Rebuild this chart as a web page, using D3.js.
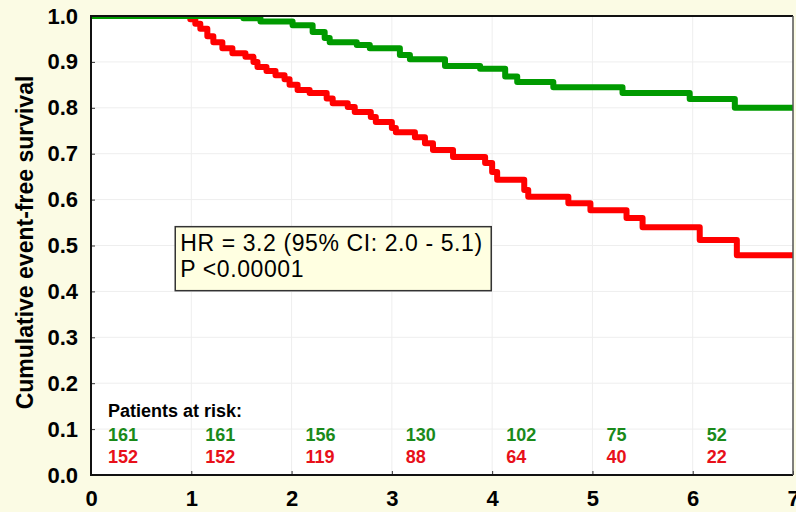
<!DOCTYPE html>
<html>
<head>
<meta charset="utf-8">
<script src="https://cdn.jsdelivr.net/npm/d3@7"></script>
<style>
  body { margin: 0; background: #fbfbe4; }
  svg text { font-family: "Liberation Sans", Arial, sans-serif; }
</style>
</head>
<body>
<div id="chart"></div>
<script>
// Kaplan-Meier steps (time in years, survival)
const greenTimes = [0, 1.52, 1.69, 2.01, 2.21, 2.33, 2.38, 2.65, 2.78, 3.08, 3.18, 3.53, 3.88, 4.13, 4.25, 4.61, 5.30, 5.97, 6.42, 7.0];
const greenSurv  = [1.0, 0.995, 0.988, 0.98, 0.965, 0.952, 0.943, 0.937, 0.93, 0.915, 0.906, 0.891, 0.885, 0.868, 0.856, 0.845, 0.832, 0.819, 0.80, 0.80];

const redTimes = [0, 0.99, 1.04, 1.09, 1.16, 1.22, 1.31, 1.41, 1.54, 1.62, 1.66, 1.75, 1.84, 1.93, 1.98, 2.06, 2.18, 2.35, 2.41, 2.56, 2.63, 2.79, 2.84, 3.0, 3.04, 3.23, 3.33, 3.41, 3.61, 3.93, 4.0, 4.05, 4.32, 4.36, 4.76, 4.98, 5.34, 5.50, 6.07, 6.44, 7.0];
const redSurv  = [1.0, 0.993, 0.983, 0.972, 0.956, 0.943, 0.93, 0.919, 0.911, 0.9, 0.889, 0.88, 0.871, 0.862, 0.85, 0.839, 0.832, 0.82, 0.81, 0.802, 0.791, 0.78, 0.769, 0.756, 0.747, 0.736, 0.723, 0.708, 0.693, 0.68, 0.66, 0.643, 0.621, 0.606, 0.592, 0.577, 0.56, 0.54, 0.512, 0.479, 0.479];

// patients at risk table
const riskTimes = [0, 1, 2, 3, 4, 5, 6];
const riskGreen = [161, 161, 156, 130, 102, 75, 52];
const riskRed   = [152, 152, 119, 88, 64, 40, 22];

const xTicks = [0, 1, 2, 3, 4, 5, 6, 7];
const yTicks = [0, 0.1, 0.2, 0.3, 0.4, 0.5, 0.6, 0.7, 0.8, 0.9, 1.0];

const statLines = ["HR = 3.2 (95% CI: 2.0 - 5.1)", "P <0.00001"];

const margin = { top: 16, right: 3, bottom: 37, left: 91 },
      width = 796 - margin.left - margin.right,
      height = 512 - margin.top - margin.bottom;

const svg = d3.select("#chart")
  .append("svg")
  .attr("width", 796)
  .attr("height", 512);

svg.append("rect")
  .attr("width", 796).attr("height", 512)
  .attr("fill", "#fbfbe4");

const g = svg.append("g")
  .attr("transform", `translate(${margin.left}, ${margin.top})`);

const x = d3.scaleLinear().domain([0, 7]).range([0, width]);
const y = d3.scaleLinear().domain([0, 1]).range([height, 0]);

// plot area
g.append("rect")
  .attr("width", width).attr("height", height)
  .attr("fill", "#ffffff");

g.append("clipPath").attr("id", "plot-clip")
  .append("rect").attr("width", width).attr("height", height);

// faint grid
g.append("g")
  .selectAll("line")
  .data(xTicks.slice(1, -1))
  .join("line")
  .attr("x1", d => x(d)).attr("x2", d => x(d))
  .attr("y1", 0).attr("y2", height)
  .attr("stroke", "#eeeeee").attr("stroke-width", 1);

g.append("g")
  .selectAll("line")
  .data(yTicks.slice(1, -1))
  .join("line")
  .attr("x1", 0).attr("x2", width)
  .attr("y1", d => y(d)).attr("y2", d => y(d))
  .attr("stroke", "#eeeeee").attr("stroke-width", 1);

// axes
const xAxis = g.append("g")
  .attr("transform", `translate(0, ${height})`)
  .call(d3.axisBottom(x).tickValues(xTicks).tickSize(-4).tickPadding(15).tickFormat(d3.format("d")));

const yAxis = g.append("g")
  .call(d3.axisLeft(y).tickValues(yTicks).tickSize(-4).tickPadding(13).tickFormat(d3.format(".1f")));

[xAxis, yAxis].forEach(a => {
  a.select(".domain").remove();
  a.selectAll(".tick line").attr("stroke", "#333").attr("stroke-width", 1);
  a.selectAll(".tick text")
    .attr("fill", "#000")
    .style("font-size", "22px")
    .style("font-weight", "bold");
});

// survival curves
const line = d3.line()
  .x(d => x(d[0]))
  .y(d => y(d[1]))
  .curve(d3.curveStepAfter);

const curves = [
  { color: "#ff0000", pts: d3.zip(redTimes, redSurv) },
  { color: "#009a00", pts: d3.zip(greenTimes, greenSurv) }
];

g.append("g")
  .attr("clip-path", "url(#plot-clip)")
  .selectAll("path")
  .data(curves)
  .join("path")
  .attr("d", d => line(d.pts))
  .attr("fill", "none")
  .attr("stroke", d => d.color)
  .attr("stroke-width", 6)
  .attr("stroke-linejoin", "round");

// frame
g.append("path")
  .attr("d", `M${width},0H0V${height}H${width}`)
  .attr("fill", "none").attr("stroke", "#111").attr("stroke-width", 2);
g.append("line")
  .attr("x1", width).attr("x2", width).attr("y1", 0).attr("y2", height)
  .attr("stroke", "#555").attr("stroke-width", 1.5);

// stats box
const box = g.append("g").attr("transform", `translate(${x(0.84)}, ${y(0.541)})`);
box.append("rect")
  .attr("width", 316).attr("height", 64)
  .attr("fill", "#ffffe1")
  .attr("stroke", "#333").attr("stroke-width", 1.5);
box.selectAll("text")
  .data(statLines)
  .join("text")
  .attr("x", 5)
  .attr("y", (d, i) => 24 + i * 26)
  .attr("fill", "#000")
  .style("font-size", "23px")
  .style("letter-spacing", "0.6px")
  .text(d => d);

// patients at risk
g.append("text")
  .attr("x", x(0.17)).attr("y", y(0.126))
  .style("font-size", "18px").style("font-weight", "bold")
  .attr("fill", "#000")
  .text("Patients at risk:");

const riskRows = [
  { vals: riskGreen, color: "#1a8a1a", yv: 0.073 },
  { vals: riskRed, color: "#e8101a", yv: 0.026 }
];
riskRows.forEach(row => {
  g.append("g")
    .selectAll("text")
    .data(row.vals)
    .join("text")
    .attr("x", (d, i) => x(riskTimes[i]) + (i === 0 ? 17 : 14))
    .attr("y", y(row.yv))
    .attr("fill", row.color)
    .style("font-size", "18px").style("font-weight", "bold")
    .text(d => d);
});

// y axis title
svg.append("text")
  .attr("transform", `translate(33, ${margin.top + height / 2 - 3}) rotate(-90)`)
  .attr("text-anchor", "middle")
  .attr("fill", "#000")
  .style("font-size", "23px").style("font-weight", "bold")
  .text("Cumulative event-free survival");
</script>
</body>
</html>
